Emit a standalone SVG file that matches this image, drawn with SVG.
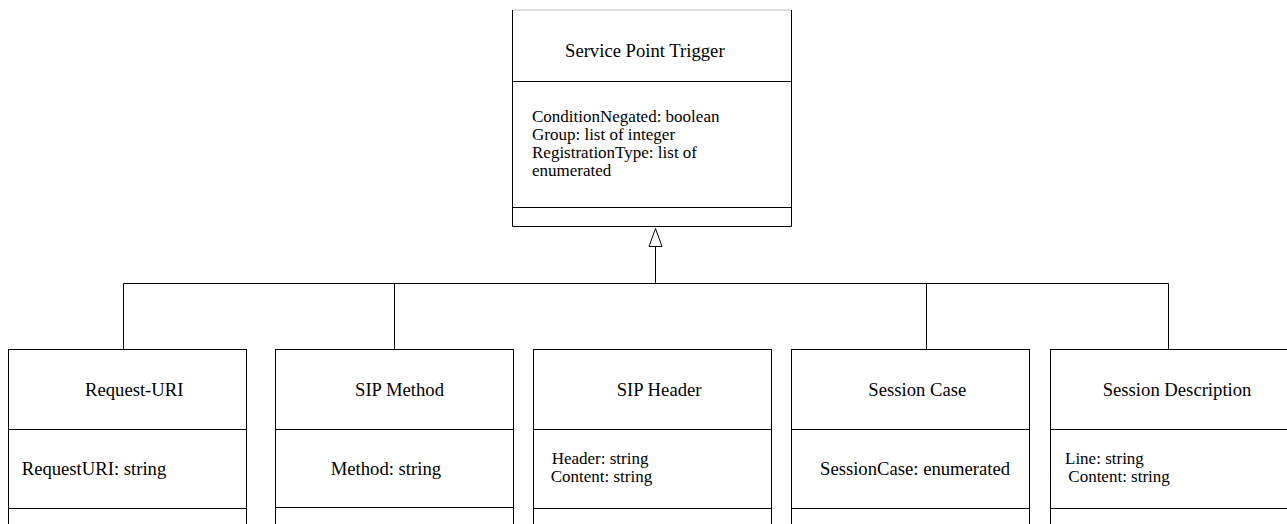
<svg xmlns="http://www.w3.org/2000/svg" width="1287" height="524" viewBox="0 0 1287 524">
<defs>
<style>
.box{fill:#fff;stroke:#000;stroke-width:1}
.ln{fill:none;stroke:#000;stroke-width:1}
text{font-family:"Liberation Serif","Times New Roman",serif;font-size:18.67px;fill:#000}
text.m{font-size:17px}
</style>
</defs>
<rect width="1287" height="524" fill="#fff"/>
<g id="connectors">
<path class="ln" d="M123.5,349 V283.5 H1168.5 V349"/>
<path class="ln" d="M394.5,349 V283.5"/>
<path class="ln" d="M926.5,349 V283.5"/>
<path class="ln" d="M655.5,283.5 V246.5"/>
<path d="M655.5,228.5 L662,246.5 L649,246.5 Z" fill="#fff" stroke="#000" stroke-width="1"/>
</g>
<g id="service-point-trigger">
<rect x="512.5" y="10" width="279" height="216.5" fill="#fff"/>
<line x1="512.5" y1="10" x2="791.5" y2="10" stroke="#bbb" stroke-width="1"/>
<path class="ln" d="M512.5,10 V226.5 H791.5 V10"/>
<line class="ln" x1="512.5" y1="81.5" x2="791.5" y2="81.5"/>
<line class="ln" x1="512.5" y1="207.5" x2="791.5" y2="207.5"/>
<text x="565" y="57">Service Point Trigger</text>
<text class="m" x="532" y="121.5">ConditionNegated: boolean</text>
<text class="m" x="532" y="139.5">Group: list of integer</text>
<text class="m" x="532" y="157.5">RegistrationType: list of</text>
<text class="m" x="532" y="175.5">enumerated</text>
</g>
<g id="request-uri">
<rect class="box" x="8.5" y="349.5" width="238" height="190"/>
<line class="ln" x1="8.5" y1="429.5" x2="246.5" y2="429.5"/>
<line class="ln" x1="8.5" y1="508.5" x2="246.5" y2="508.5"/>
<text x="85" y="396">Request-URI</text>
<text x="21.7" y="475">RequestURI: string</text>
</g>
<g id="sip-method">
<rect class="box" x="275.5" y="349.5" width="238" height="190"/>
<line class="ln" x1="275.5" y1="429.5" x2="513.5" y2="429.5"/>
<line class="ln" x1="275.5" y1="507.5" x2="513.5" y2="507.5"/>
<text x="355" y="396">SIP Method</text>
<text x="330.7" y="475">Method: string</text>
</g>
<g id="sip-header">
<rect class="box" x="533.5" y="349.5" width="238" height="190"/>
<line class="ln" x1="533.5" y1="429.5" x2="771.5" y2="429.5"/>
<line class="ln" x1="533.5" y1="508.5" x2="771.5" y2="508.5"/>
<text x="616.7" y="396">SIP Header</text>
<text class="m" x="551.7" y="463.5">Header: string</text>
<text class="m" x="550.7" y="481.5">Content: string</text>
</g>
<g id="session-case">
<rect class="box" x="791.5" y="349.5" width="238" height="190"/>
<line class="ln" x1="791.5" y1="429.5" x2="1029.5" y2="429.5"/>
<line class="ln" x1="791.5" y1="508.5" x2="1029.5" y2="508.5"/>
<text x="868.3" y="396">Session Case</text>
<text x="820" y="475">SessionCase: enumerated</text>
</g>
<g id="session-description">
<rect class="box" x="1050.5" y="349.5" width="238" height="190"/>
<line class="ln" x1="1050.5" y1="429.5" x2="1288" y2="429.5"/>
<line class="ln" x1="1050.5" y1="508.5" x2="1288" y2="508.5"/>
<text x="1102.7" y="396">Session Description</text>
<text class="m" x="1065" y="463.5">Line: string</text>
<text class="m" x="1068.3" y="481.5">Content: string</text>
</g>
</svg>
